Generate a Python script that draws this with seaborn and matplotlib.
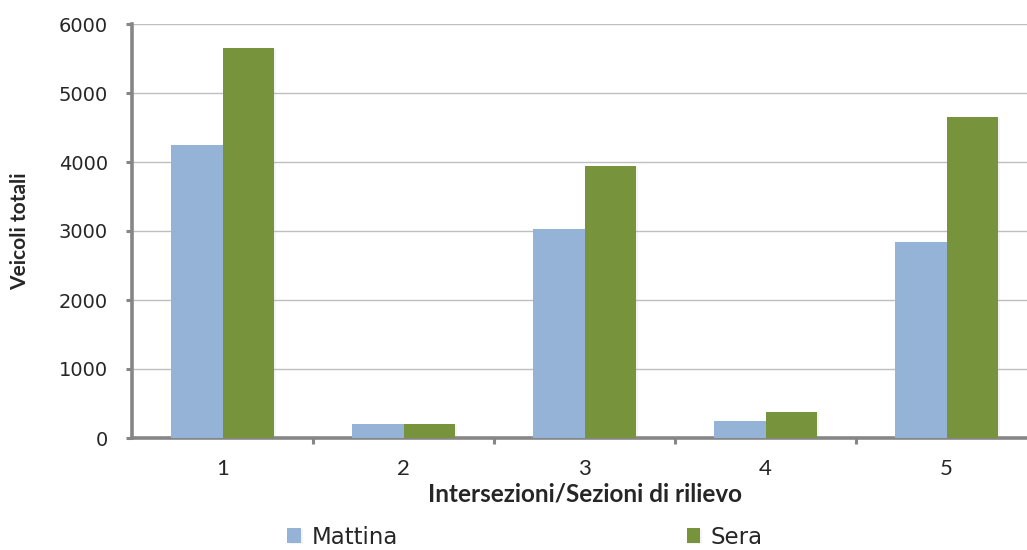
import matplotlib
matplotlib.use("Agg")
import matplotlib.pyplot as plt
import matplotlib.patheffects as pe
from matplotlib.ticker import FixedLocator, MultipleLocator
import seaborn as sns
import pandas as pd

# Traffic counts per survey section, morning vs evening
categories = ["1", "2", "3", "4", "5"]
mattina = [4250, 210, 3030, 250, 2840]
sera = [5650, 210, 3940, 380, 4650]
periods = ["Mattina", "Sera"]
colors = ["#95B3D7", "#77933C"]

df = pd.DataFrame({
    "Sezione": categories * 2,
    "Veicoli": mattina + sera,
    "Periodo": [periods[0]] * len(categories) + [periods[1]] * len(categories),
})

sns.set_style("white")
plt.rcParams["font.family"] = ["DejaVu Sans"]

axis_grey = "#868686"

fig = plt.figure(figsize=(10.27, 5.5), dpi=100)
ax = fig.add_axes([132 / 1027, 112 / 550, 905 / 1027, 414 / 550])

sns.barplot(data=df, x="Sezione", y="Veicoli", hue="Periodo", hue_order=periods,
            palette=colors, width=0.57, saturation=1, edgecolor="none",
            linewidth=0, ax=ax, zorder=3)

# soft drop shadow behind each bar
for p in ax.patches:
    p.set_path_effects([pe.SimplePatchShadow(offset=(1.2, -0.8), shadow_rgbFace="#9a9a9a", alpha=0.1),
                        pe.Normal()])

handles, labels = ax.get_legend_handles_labels()
if ax.get_legend() is not None:
    ax.get_legend().remove()

ax.set_xlim(-0.5, 4.5)
ax.set_ylim(0, 6000)
ax.yaxis.set_major_locator(MultipleLocator(1000))
ax.yaxis.grid(True, color="#BFBFBF", linewidth=1)
ax.xaxis.grid(False)
ax.set_axisbelow(True)

for side in ("top", "right"):
    ax.spines[side].set_visible(False)
for side in ("left", "bottom"):
    ax.spines[side].set_color(axis_grey)
    ax.spines[side].set_linewidth(2.6)

ax.tick_params(axis="y", which="major", direction="out", length=4.5, width=2.2,
               color=axis_grey, labelsize=14, pad=13, left=True)
ax.xaxis.set_minor_locator(FixedLocator([0.5, 1.5, 2.5, 3.5]))
ax.tick_params(axis="x", which="major", length=0, labelsize=16, pad=15)
ax.tick_params(axis="x", which="minor", direction="out", length=4.5, width=2.2,
               color=axis_grey, bottom=True)
for t in ax.get_xticklabels():
    t.set_family("Lato")

ax.set_ylabel("Veicoli totali", fontsize=15, fontweight="bold", family="Lato")
ax.yaxis.set_label_coords(-0.1127, 0.5)
ax.set_xlabel("Intersezioni/Sezioni di rilievo", fontsize=17.5, fontweight="bold", family="Lato")
ax.xaxis.set_label_coords(0.5, -0.108)

fig.legend(handles, labels, loc="center", bbox_to_anchor=(525 / 1027, 1 - 537 / 550),
           ncol=2, frameon=False, fontsize=16.5, handlelength=0.6, handleheight=0.6,
           handletextpad=0.45, columnspacing=12.6)

fig.savefig("out.png", dpi=100)
